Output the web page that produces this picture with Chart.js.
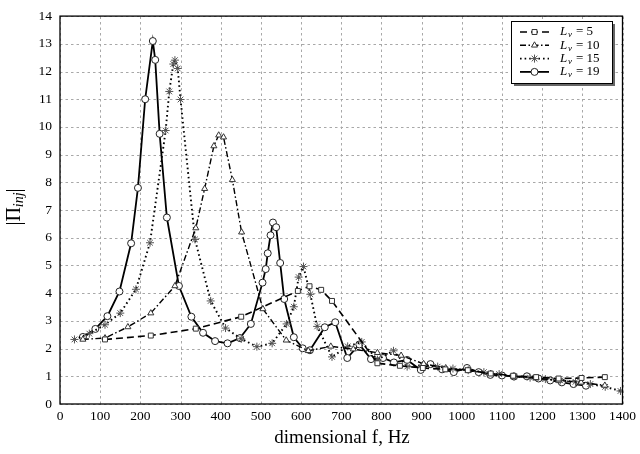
<!DOCTYPE html>
<html>
<head>
<meta charset="utf-8">
<script src="https://cdn.jsdelivr.net/npm/chart.js@4.4.1/dist/chart.umd.min.js"></script>
<style>
  html, body { margin: 0; padding: 0; background: #fff; }
  canvas { display: block; }
</style>
</head>
<body>
<canvas id="chart" width="640" height="454"></canvas>
<script>
// values (frequency in Hz, |Pi_inj|)
const f5 = [112, 226, 338, 451, 592, 621, 650, 677, 790, 846, 903, 959, 1015, 1072, 1128, 1185, 1241, 1298, 1356];
const v5 = [2.33, 2.47, 2.72, 3.15, 4.08, 4.25, 4.12, 3.72, 1.47, 1.38, 1.30, 1.25, 1.22, 1.10, 1.02, 0.97, 0.92, 0.94, 0.97];

const f10 = [57, 112, 169, 226, 286, 338, 360, 383, 395, 407, 429, 452, 505, 563, 618, 674, 730, 790, 849, 905, 960, 1016, 1072, 1128, 1185, 1241, 1297, 1356];
const v10 = [2.33, 2.38, 2.78, 3.28, 4.26, 6.35, 7.77, 9.31, 9.70, 9.63, 8.09, 6.20, 3.43, 2.30, 1.92, 2.08, 1.98, 1.85, 1.75, 1.45, 1.30, 1.20, 1.10, 1.00, 0.93, 0.85, 0.78, 0.67];

const f15 = [36, 73, 112, 150, 189, 224, 263, 272, 282, 286, 293, 300, 336, 375, 412, 451, 490, 528, 564, 582, 594, 606, 623, 640, 677, 716, 751, 790, 830, 864, 902, 940, 978, 1016, 1055, 1093, 1130, 1170, 1208, 1245, 1283, 1320, 1357, 1395];
const v15 = [2.33, 2.54, 2.86, 3.28, 4.14, 5.82, 9.87, 11.28, 12.27, 12.41, 12.11, 10.99, 5.94, 3.72, 2.74, 2.35, 2.07, 2.19, 2.89, 3.51, 4.58, 4.96, 3.96, 2.80, 1.70, 2.08, 2.24, 1.60, 1.92, 1.35, 1.40, 1.35, 1.28, 1.22, 1.15, 1.08, 1.00, 0.95, 0.90, 0.85, 0.80, 0.72, 0.62, 0.47];

const f19 = [57, 88, 118, 148, 177, 194, 212, 231, 237, 248, 266, 296, 327, 356, 386, 417, 448, 475, 504, 512, 517, 524, 530, 538, 548, 558, 582, 604, 622, 659, 685, 715, 745, 774, 804, 831, 864, 898, 922, 951, 980, 1013, 1042, 1071, 1100, 1130, 1162, 1191, 1220, 1249, 1278, 1309];
const v19 = [2.42, 2.71, 3.17, 4.06, 5.80, 7.80, 11.0, 13.1, 12.42, 9.75, 6.73, 4.26, 3.15, 2.57, 2.27, 2.19, 2.38, 2.89, 4.38, 4.87, 5.44, 6.09, 6.55, 6.38, 5.09, 3.79, 2.41, 2.01, 1.94, 2.77, 2.95, 1.66, 2.15, 1.62, 1.66, 1.50, 1.59, 1.23, 1.44, 1.25, 1.15, 1.30, 1.15, 1.05, 1.03, 0.99, 1.00, 0.92, 0.85, 0.78, 0.72, 0.66];

const lvValues = ['5', '10', '15', '19'];
const xTicks = [0, 100, 200, 300, 400, 500, 600, 700, 800, 900, 1000, 1100, 1200, 1300, 1400];
const yTicks = [0, 1, 2, 3, 4, 5, 6, 7, 8, 9, 10, 11, 12, 13, 14];

const SERIF = '"Liberation Serif", "DejaVu Serif", serif';
const pts = (fs, vs) => fs.map((f, i) => ({ x: f, y: vs[i] }));

function series(label, data, dash, style, width, pointColor) {
    return {
        label: label,
        data: data,
        borderColor: '#000',
        borderWidth: width,
        borderDash: dash,
        borderCapStyle: 'butt',
        pointStyle: style,
        pointRadius: style === 'star' ? 4 : 3.5,
        pointBackgroundColor: '#fff',
        pointBorderColor: pointColor,
        pointBorderWidth: 1,
        tension: 0,
        fill: false
    };
}

// dashed grid, drawn from the scales' own ticks
const dashedGrid = {
    id: 'dashedGrid',
    beforeDatasetsDraw(chart) {
        const a = chart.chartArea;
        const ctx = chart.ctx;
        const xs = chart.scales.x, ys = chart.scales.y;
        ctx.save();
        ctx.strokeStyle = '#a8a8a8';
        ctx.lineWidth = 1;
        ctx.setLineDash([2.5, 3]);
        xTicks.forEach(v => {
            const px = Math.round(xs.getPixelForValue(v)) + 0.5;
            ctx.beginPath();
            ctx.moveTo(px, a.bottom);
            ctx.lineTo(px, a.top);
            ctx.stroke();
        });
        yTicks.forEach(v => {
            const py = Math.round(ys.getPixelForValue(v)) + 0.5;
            ctx.beginPath();
            ctx.moveTo(a.left, py);
            ctx.lineTo(a.right, py);
            ctx.stroke();
        });
        ctx.restore();
    }
};

// legend box drawn by hand so that the line style and marker show together
const legendBox = {
    id: 'legendBox',
    afterDraw(chart) {
        const ctx = chart.ctx;
        const x0 = 511, y0 = 21, w = 101, h = 62;
        ctx.save();
        ctx.fillStyle = '#666';
        ctx.fillRect(x0 + 3, y0 + 3, w, h);
        ctx.fillStyle = '#fff';
        ctx.fillRect(x0, y0, w, h);
        ctx.strokeStyle = '#000';
        ctx.lineWidth = 1;
        ctx.strokeRect(x0 + 0.5, y0 + 0.5, w, h);
        chart.data.datasets.forEach((ds, i) => {
            const y = y0 + 11 + i * 13.3;
            ctx.strokeStyle = '#000';
            ctx.lineWidth = ds.borderWidth;
            ctx.setLineDash(ds.borderDash);
            ctx.beginPath();
            ctx.moveTo(x0 + 9, y);
            ctx.lineTo(x0 + 38, y);
            ctx.stroke();
            ctx.setLineDash([]);
            ctx.fillStyle = '#fff';
            ctx.strokeStyle = ds.pointBorderColor;
            ctx.lineWidth = 1;
            Chart.helpers.drawPoint(ctx, { pointStyle: ds.pointStyle, radius: ds.pointRadius, rotation: 0, borderWidth: 1 }, x0 + 23.5, y);
            ctx.fillStyle = '#000';
            ctx.textBaseline = 'middle';
            ctx.font = 'italic 13px ' + SERIF;
            ctx.fillText('L', x0 + 49, y);
            ctx.font = 'italic 9px ' + SERIF;
            ctx.fillText('v', x0 + 57, y + 3);
            ctx.font = '13px ' + SERIF;
            ctx.fillText('= ' + lvValues[i], x0 + 65, y);
        });
        ctx.restore();
    }
};

// frame and axis titles
const frame = {
    id: 'frame',
    afterDatasetsDraw(chart) {
        const a = chart.chartArea;
        const ctx = chart.ctx;
        ctx.save();
        ctx.strokeStyle = '#000';
        ctx.lineWidth = 1.3;
        ctx.strokeRect(a.left, a.top, a.right - a.left, a.bottom - a.top);
        ctx.restore();
    },
    afterDraw(chart) {
        const ctx = chart.ctx;
        ctx.save();
        ctx.fillStyle = '#000';
        ctx.textBaseline = 'middle';
        ctx.textAlign = 'center';
        ctx.font = '19px ' + SERIF;
        ctx.fillText('dimensional f, Hz', 342, 438);

        ctx.translate(15, 207);
        ctx.rotate(-Math.PI / 2);
        ctx.textAlign = 'left';
        ctx.font = '20px ' + SERIF;
        const a = '|\u03A0';
        const wa = ctx.measureText(a).width;
        ctx.font = 'italic 14px ' + SERIF;
        const b = 'inj';
        const wb = ctx.measureText(b).width;
        ctx.font = '20px ' + SERIF;
        const wc = ctx.measureText('|').width;
        let x = -(wa + wb + wc) / 2;
        ctx.fillText(a, x, 0);
        x += wa;
        ctx.font = 'italic 14px ' + SERIF;
        ctx.fillText(b, x, 4);
        x += wb;
        ctx.font = '20px ' + SERIF;
        ctx.fillText('|', x, 0);
        ctx.restore();
    }
};

new Chart(document.querySelector('#chart'), {
    type: 'line',
    data: {
        datasets: [
            series('Lv = 5', pts(f5, v5), [7, 4], 'rect', 1.6, '#333'),
            series('Lv = 10', pts(f10, v10), [6, 2.5, 1.5, 2.5], 'triangle', 1.4, '#333'),
            series('Lv = 15', pts(f15, v15), [1.6, 3], 'star', 1.9, '#555'),
            series('Lv = 19', pts(f19, v19), [], 'circle', 1.8, '#222')
        ]
    },
    options: {
        responsive: false,
        animation: false,
        layout: { padding: { top: 9, right: 16, left: 0, bottom: 0 } },
        plugins: {
            legend: { display: false },
            tooltip: { enabled: false }
        },
        scales: {
            x: {
                type: 'linear',
                min: 0,
                max: 1400,
                afterFit: s => { s.height = 50; },
                afterBuildTicks: s => { s.ticks = xTicks.map(v => ({ value: v })); },
                grid: { display: false, drawTicks: false },
                border: { display: false },
                ticks: { color: '#000', padding: 4, maxRotation: 0, autoSkip: false, callback: v => String(v), font: { family: SERIF, size: 13.5 } }
            },
            y: {
                type: 'linear',
                min: 0,
                max: 14,
                afterFit: s => { s.width = 60; },
                afterBuildTicks: s => { s.ticks = yTicks.map(v => ({ value: v })); },
                grid: { display: false, drawTicks: false },
                border: { display: false },
                ticks: { color: '#000', padding: 8, callback: v => String(v), font: { family: SERIF, size: 13.5 } }
            }
        }
    },
    plugins: [dashedGrid, frame, legendBox]
});
</script>
</body>
</html>
